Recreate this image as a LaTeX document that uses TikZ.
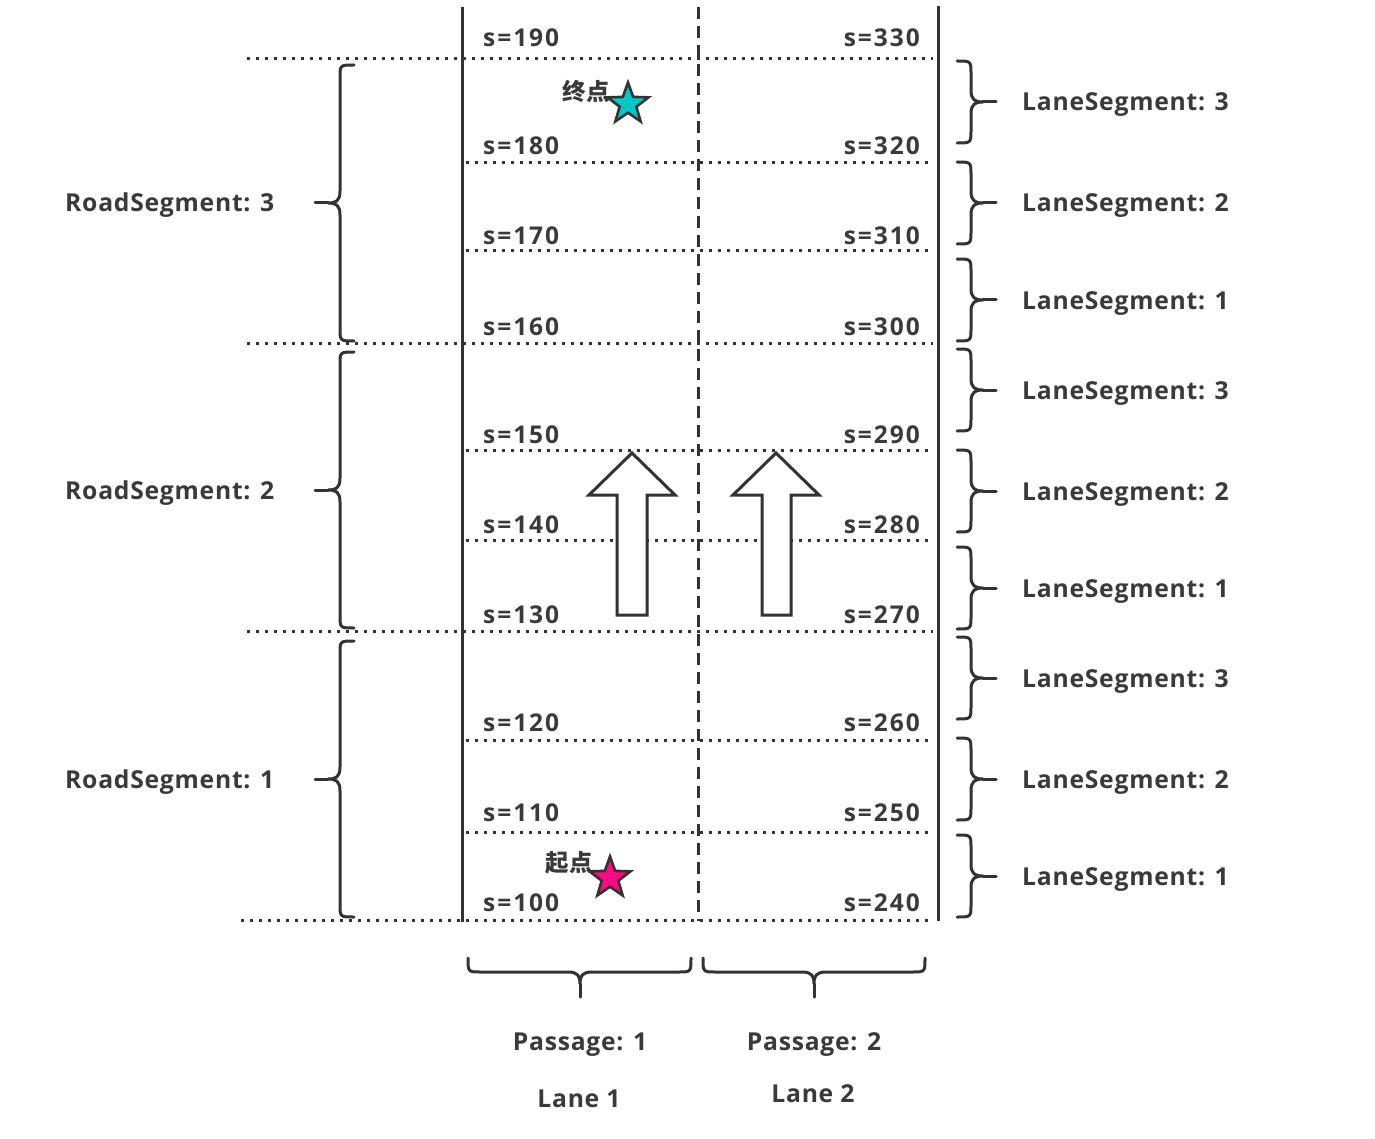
\documentclass[tikz,border=0pt]{standalone}
\usepackage{fontspec}
\setmainfont{Open Sans}[LetterSpace=3]
\newfontfamily\sfnt{Open Sans}[LetterSpace=8]
\newfontfamily\cjk{Noto Sans CJK SC}
\usetikzlibrary{shapes.geometric}
\definecolor{ink}{HTML}{333333}
\definecolor{txt}{HTML}{3A3A3A}
\definecolor{starcyan}{HTML}{00C8C8}
\definecolor{starpink}{HTML}{FF0A82}
\tikzset{
  solidl/.style={draw=ink, line width=3pt},
  dashl/.style={draw=ink, line width=3pt, dash pattern=on 12pt off 7pt},
  dotl/.style={draw=ink, line width=3pt, dash pattern=on 3pt off 6pt},
  brc/.style={draw=ink, line width=3pt, line cap=round, line join=round},
  sval/.style={text=txt, inner sep=0pt, font=\sfnt\bfseries\fontsize{24.5}{28}\selectfont},
  lbl/.style={text=txt, inner sep=0pt, font=\bfseries\fontsize{24.7}{28}\selectfont},
  bigarrow/.style={draw=ink, line width=3pt, fill=white, line join=miter},
  starnode/.style={star, star points=5, star point ratio=2.45, draw=ink, line width=2.6pt, inner sep=0pt, minimum size=43pt},
  cjklbl/.style={text=txt, inner sep=0pt, font=\cjk\bfseries\fontsize{23.5}{26}\selectfont},
}
% right brace: #1 = centre y, #2 = half height
\newcommand\RBrace[2]{%
  \draw[brc] (957,{#1-#2}) .. controls (971,{#1-#2}) .. (971,{#1-#2+13}) -- (971,{#1-12})
    .. controls (971,{#1-2}) and (975,#1) .. (983,#1)
    .. controls (975,#1) and (971,{#1+2}) .. (971,{#1+12}) -- (971,{#1+#2-13})
    .. controls (971,{#1+#2}) .. (957,{#1+#2});
  \draw[brc] (983,#1) -- (996,#1);}
% left brace
\newcommand\LBrace[2]{%
  \draw[brc] (354,{#1-#2}) .. controls (340,{#1-#2}) .. (340,{#1-#2+13}) -- (340,{#1-12})
    .. controls (340,{#1-2}) and (336,#1) .. (328,#1)
    .. controls (336,#1) and (340,{#1+2}) .. (340,{#1+12}) -- (340,{#1+#2-13})
    .. controls (340,{#1+#2}) .. (354,{#1+#2});
  \draw[brc] (328,#1) -- (315,#1);}
% bottom brace: #1 left x, #2 right x, #3 tip x
\newcommand\BBrace[3]{%
  \draw[brc] (#1,958) .. controls (#1,972) .. ({#1+13},972) -- ({#3-12},972)
    .. controls ({#3-2},972) and (#3,976) .. (#3,984)
    .. controls (#3,976) and ({#3+2},972) .. ({#3+12},972) -- ({#2-13},972)
    .. controls (#2,972) .. (#2,958);
  \draw[brc] (#3,984) -- (#3,997);}
\begin{document}
\begin{tikzpicture}[x=1pt, y=-1pt]
\useasboundingbox (0,0) rectangle (1375,1139);
\fill[white] (0,0) rectangle (1375,1139);

% dotted s-lines
\foreach \yy in {59,343,631} { \draw[dotl] (247,\yy) -- (933,\yy); }
\draw[dotl] (241,920) -- (933,920);
\foreach \yy in {163,251,450,540,740,832} { \draw[dotl] (466,\yy) -- (933,\yy); }

% lane boundaries
\coordinate (l1top) at (462,7);
\coordinate (l1bot) at (462,922);
\coordinate (mtop) at (698,7);
\coordinate (mbot) at (698,921);
\coordinate (r1top) at (938,6);
\coordinate (r1bot) at (938,921);
\draw[solidl] (l1top) -- (l1bot);
\draw[dashl] (mtop) -- (mbot);
\draw[solidl] (r1top) -- (r1bot);

% s labels
\foreach \yy/\a/\b [count=\i] in {38/190/330,146/180/320,236/170/310,326/160/300,434/150/290,524/140/280,614/130/270,722/120/260,812/110/250,902/100/240} {
  \node[sval, anchor=base west] (sl\i) at (483,{\yy+9}) {s=\a};
  \node[sval, anchor=base east] (sr\i) at (920,{\yy+9}) {s=\b};
}

% direction arrows
\draw[bigarrow] (617,615) -- (617,495) -- (589,495) -- (632,453) -- (675,495) -- (647,495) -- (647,615) -- cycle;
\draw[bigarrow] (762,615) -- (762,495) -- (733,495) -- (776,453) -- (819,495) -- (791,495) -- (791,615) -- cycle;

% start / end
\node[cjklbl] (endlbl) at (586,91) {终点};
\node[starnode, fill=starcyan] (endstar) at (628,104) {};
\node[cjklbl] (startlbl) at (569,863) {起点};
\node[starnode, fill=starpink] (startstar) at (610,878) {};

% lane segment braces
\foreach \yc/\n [count=\i] in {102/3,203/2,300/1,390/3,491/2,588/1,678/3,779/2,876/1} {
  \RBrace{\yc}{41}
  \node[lbl, anchor=base west] (ls\i) at (1022,{\yc+9}) {LaneSegment: \n};
}

% road segment braces
\foreach \yc/\n [count=\i] in {203/3,490/2,779/1} {
  \LBrace{\yc}{138}
  \node[lbl, anchor=base west] (rs\i) at (65,{\yc+9}) {RoadSegment: \n};
}

% passage braces
\BBrace{468}{691}{580}
\BBrace{703}{925}{814}
\node[lbl, anchor=base] (p1) at (580,1050) {Passage: 1};
\node[lbl, anchor=base] (p2) at (814,1050) {Passage: 2};
\node[lbl, anchor=base] (lane1) at (579,1107) {Lane 1};
\node[lbl, anchor=base] (lane2) at (813,1102) {Lane 2};
\end{tikzpicture}
\end{document}
